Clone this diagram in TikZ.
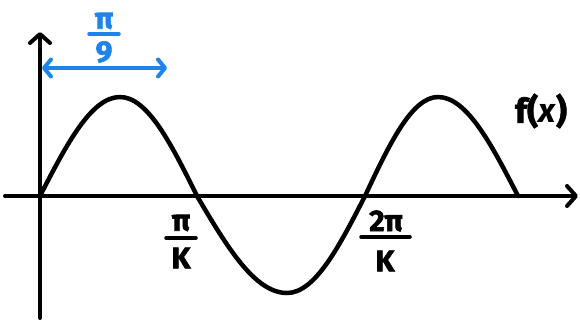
\documentclass[tikz,border=0pt]{standalone}
\usepackage{fontspec}
\setmainfont{Fira Sans}[BoldFeatures={FakeBold=2}]
\usetikzlibrary{arrows.meta}
\definecolor{myblue}{RGB}{30,132,232}
\begin{document}
\begin{tikzpicture}[x=1pt,y=-1pt,
  axisline/.style={line width=4pt,line cap=round,-{Straight Barb[length=9pt,width=20pt,line width=4pt,round]}},
  wave/.style={line width=4.5pt,line cap=round,line join=round},
  lbl/.style={font=\fontsize{30}{32}\selectfont\bfseries,inner sep=0pt},
  fracbar/.style={line width=3.5pt,line cap=round}]
\useasboundingbox (0,0) rectangle (580,324);
% axes
\coordinate (xs) at (5,196);
\coordinate (xe) at (578,196);
\coordinate (ys) at (40,318);
\coordinate (ye) at (40,32);
\draw[axisline] (xs) -- (xe);
\draw[axisline] (ys) -- (ye);
% wave
\coordinate (p0) at (40,196);
\coordinate (p1) at (120,97);
\coordinate (p2) at (197,196);
\coordinate (p3) at (287,293);
\coordinate (p4) at (365,196);
\coordinate (p5) at (438,97);
\coordinate (p6) at (518,196);
\draw[wave] (p0) sin (p1) cos (p2) sin (p3) cos (p4) sin (p5) cos (p6);
% blue arrow
\coordinate (ba) at (42,68);
\coordinate (bb) at (167,68);
\draw[myblue,line width=4pt,line cap=round,{Straight Barb[length=7pt,width=17pt,line width=4pt,round]}-{Straight Barb[length=7pt,width=17pt,line width=4pt,round]}] (ba) -- (bb);
\node[lbl,text=myblue] (n9) at (104,21) {π};
\coordinate (b9l) at (89,34);
\coordinate (b9r) at (119,34);
\draw[fracbar,myblue] (b9l) -- (b9r);
\node[lbl,text=myblue] (d9) at (104,52) {9};
% pi/K
\node[lbl] (n1) at (181,223) {π};
\coordinate (b1l) at (166,238);
\coordinate (b1r) at (196,238);
\draw[fracbar] (b1l) -- (b1r);
\node[lbl] (d1) at (181,258) {K};
% 2pi/K
\node[lbl] (n2) at (386,221) {2π};
\coordinate (b2l) at (361,237);
\coordinate (b2r) at (410,237);
\draw[fracbar] (b2l) -- (b2r);
\node[lbl] (d2) at (385,261) {K};
% f(x)
\node[lbl,font=\fontsize{34}{36}\selectfont\bfseries] (fx) at (541,111) {f(\textit{x})};
\end{tikzpicture}
\end{document}
